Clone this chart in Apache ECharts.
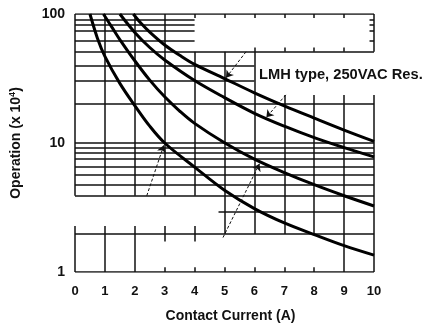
<!DOCTYPE html>
<html>
<head>
<meta charset="utf-8">
<script src="https://cdn.jsdelivr.net/npm/echarts@6/dist/echarts.min.js"></script>
<style>
  html, body { margin: 0; padding: 0; background: #fff; }
  #chart { width: 424px; height: 328px; }
</style>
</head>
<body>
<div id="chart"></div>
<script>
// curves: [current (A), operations (x 10^4)]
const curveA = [[0.5, 100], [0.75, 65], [1, 47], [1.5, 29], [2, 19.5], [2.5, 13.5], [3, 10], [4, 6.5], [5, 4.3], [6, 3.1], [7, 2.4], [8, 1.95], [9, 1.6], [10, 1.35]]
const curveB = [[0.95, 100], [1.25, 78], [1.5, 63.4], [2, 43.4], [2.5, 30.7], [3, 22.8], [3.5, 17.7], [4, 14.2], [5, 10.05], [6, 7.5], [7, 5.9], [8, 4.75], [9, 3.9], [10, 3.25]]
const curveC = [[1.5, 100], [2, 72], [2.5, 55], [3, 44], [4, 30.5], [5, 22.5], [6, 17], [7, 13.5], [8, 11], [9, 9.2], [10, 7.8]]
const curveD = [[1.95, 100], [2.2, 85], [2.5, 72.4], [3, 57.5], [3.5, 47.9], [4, 40.7], [5, 31.6], [6, 24.5], [7, 19.4], [8, 15.6], [9, 12.6], [10, 10.3]]

const xTicks = [0, 1, 2, 3, 4, 5, 6, 7, 8, 9, 10]
const yTicks = [1, 10, 100]
const noteText = 'LMH type, 250VAC Res.'

// printed grid: horizontal [y, x1, x2], vertical [x, y1, y2]
const hRules = [
  [100, 0, 10],
  [91, 0, 4], [83, 0, 4], [74, 0, 4], [61.5, 0, 4],
  [91, 9.85, 10], [83, 9.85, 10], [74, 9.85, 10], [61.5, 9.85, 10],
  [51, 0, 10],
  [39.5, 0, 6], [30.4, 0, 6],
  [20, 0, 10],
  [10, 0, 10], [9.2, 0, 10], [8.4, 0, 10], [7.6, 0, 10], [6.6, 0, 10], [5.7, 0, 10], [4.75, 0, 10], [3.9, 0, 10],
  [2.92, 4.8, 10],
  [1.97, 0, 10],
  [1, 0, 10]
]
const vRules = [
  [0, 100, 3.9], [0, 2.27, 1],
  [1, 100, 3.9], [1, 2.27, 1],
  [2, 100, 3.9], [2, 2.27, 1],
  [3, 100, 3.9], [3, 2.27, 1.72], [3, 1.09, 1],
  [4, 100, 93], [4, 51, 3.9], [4, 2.27, 1.72], [4, 1.09, 1],
  [5, 100, 93], [5, 51, 1.97], [5, 1.09, 1],
  [6, 100, 93], [6, 55, 1.97], [6, 1.09, 1],
  [7, 100, 93], [7, 55, 51], [7, 23.6, 1.97], [7, 1.09, 1],
  [8, 100, 93], [8, 55, 51], [8, 23.6, 1.97], [8, 1.09, 1],
  [9, 100, 93], [9, 55, 51], [9, 23.6, 1],
  [10, 100, 51], [10, 23.6, 1]
]
// dashed leader arrows: [from, to]
const leaders = [
  [[5.72, 51], [5.05, 32]],
  [[7.05, 23.6], [6.4, 15.8]],
  [[2.4, 3.9], [2.97, 9.6]],
  [[4.95, 1.85], [6.17, 6.9]]
]

const font = 'Liberation Sans, Arial, sans-serif'
const ink = '#111'

const rules = [
  ...hRules.map(([y, x1, x2]) => ({ coords: [[x1, y], [x2, y]] })),
  ...vRules.map(([x, y1, y2]) => ({ coords: [[x, y1], [x, y2]] }))
]

const curve = data => ({
  type: 'line',
  data,
  smooth: 0.35,
  showSymbol: false,
  silent: true,
  z: 5,
  lineStyle: { color: '#000', width: 3 }
})

const chart = echarts.init(document.getElementById('chart'), null, { renderer: 'canvas' })
chart.setOption({
  animation: false,
  backgroundColor: '#fff',
  grid: { left: 73, right: 50, top: 14, bottom: 56 },
  xAxis: {
    type: 'value', min: 0, max: 10, interval: 1,
    name: 'Contact Current (A)', nameLocation: 'middle', nameGap: 37,
    nameTextStyle: { fontFamily: font, fontSize: 14, fontWeight: 'bold', color: ink, padding: [0, 0, 0, 12] },
    axisLine: { show: false }, axisTick: { show: false }, splitLine: { show: false },
    axisLabel: { fontFamily: font, fontSize: 13, fontWeight: 'bold', color: ink, margin: 13,
      formatter: v => xTicks.includes(v) ? String(v) : '' }
  },
  yAxis: {
    type: 'log', logBase: 10, min: 1, max: 100,
    name: 'Operation (x 10{sup|4})', nameLocation: 'middle', nameGap: 50,
    nameTextStyle: { fontFamily: font, fontSize: 14, fontWeight: 'bold', color: ink, lineHeight: 17,
      rich: { sup: { fontFamily: font, fontSize: 9, fontWeight: 'bold', color: ink, verticalAlign: 'top', lineHeight: 17 } } },
    axisLine: { show: false }, axisTick: { show: false }, splitLine: { show: false },
    axisLabel: { fontFamily: font, fontSize: 14, fontWeight: 'bold', color: ink, margin: 10,
      formatter: v => yTicks.includes(v) ? String(v) : '' }
  },
  graphic: [{
    type: 'text', left: 259, top: 67, silent: true,
    style: { text: noteText, font: 'bold 14.7px ' + font, fill: ink }
  }],
  series: [
    {
      type: 'lines', coordinateSystem: 'cartesian2d', data: rules, silent: true, z: 2,
      lineStyle: { color: ink, width: 1.5, opacity: 1 }
    },
    curve(curveA), curve(curveB), curve(curveC), curve(curveD),
    {
      type: 'lines', coordinateSystem: 'cartesian2d', silent: true, z: 6,
      data: leaders.map(coords => ({ coords })),
      symbol: ['none', 'arrow'], symbolSize: 7,
      lineStyle: { color: ink, width: 1, type: [3, 2], opacity: 1 }
    }
  ]
})
</script>
</body>
</html>
